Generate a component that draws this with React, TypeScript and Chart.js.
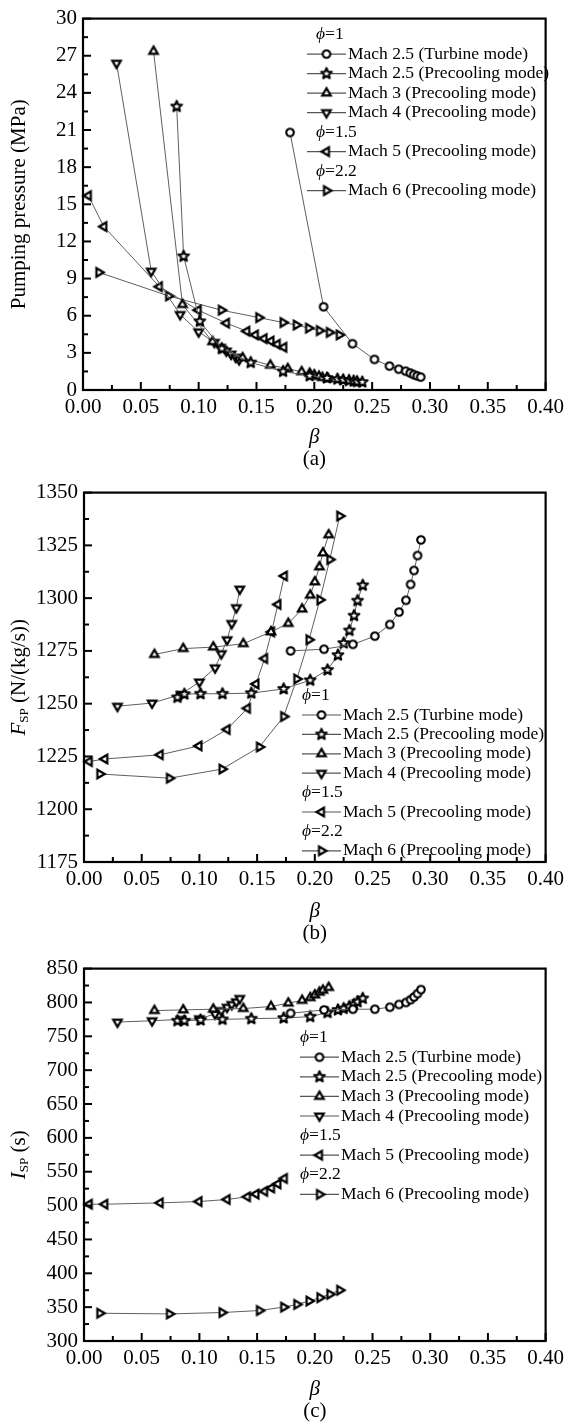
import React, { useEffect, useRef } from 'react';
import { Chart, registerables } from 'chart.js';

Chart.register(...registerables);

const FONT = '"Liberation Serif", "Times New Roman", Times, serif';
const TICK_SIZE = 21;
const TITLE_SIZE = 21;
const LEGEND_SIZE = 17.5;

// β along each operating line
const betaM25Turbine = [0.179, 0.208, 0.233, 0.252, 0.265, 0.273, 0.279, 0.283, 0.286, 0.289, 0.292];
const betaM25Precool = [0.081, 0.087, 0.101, 0.12, 0.145, 0.173, 0.196, 0.211, 0.22, 0.225, 0.23, 0.234, 0.237, 0.2415];
const betaM3 = [0.061, 0.086, 0.112, 0.138, 0.162, 0.177, 0.189, 0.196, 0.2, 0.204, 0.207, 0.212];
const betaM4 = [0.029, 0.059, 0.084, 0.1, 0.1136, 0.119, 0.124, 0.128, 0.132, 0.135];
const betaM5 = [0.0046, 0.018, 0.066, 0.0996, 0.124, 0.1416, 0.149, 0.1565, 0.1625, 0.168, 0.1736];
const betaM6 = [0.0137, 0.074, 0.1196, 0.152, 0.173, 0.1844, 0.195, 0.2044, 0.213, 0.2216];

// (a) pumping pressure, MPa
const pumpM25Turbine = [20.8, 6.72, 3.74, 2.47, 1.93, 1.68, 1.52, 1.37, 1.24, 1.14, 1.04];
const pumpM25Precool = [22.9, 10.8, 5.55, 3.35, 2.22, 1.5, 1.15, 0.97, 0.88, 0.82, 0.77, 0.72, 0.68, 0.64];
const pumpM3 = [27.35, 6.9, 3.9, 2.6, 2.0, 1.72, 1.47, 1.34, 1.22, 1.1, 1.0, 0.9];
const pumpM4 = [26.4, 9.6, 6.1, 4.7, 3.85, 3.45, 3.15, 2.9, 2.65, 2.45];
const pumpM5 = [15.7, 13.2, 8.35, 6.45, 5.4, 4.75, 4.45, 4.15, 3.95, 3.7, 3.45];
const pumpM6 = [9.5, 7.6, 6.45, 5.85, 5.45, 5.25, 5.0, 4.8, 4.65, 4.45];

// (b) specific thrust, N/(kg/s)
const fspM25Turbine = [1275.0, 1275.8, 1278.1, 1282.0, 1287.5, 1293.4, 1299.0, 1306.5, 1313.1, 1320.2, 1327.6];
const fspM25Precool = [1253.0, 1254.5, 1254.7, 1254.7, 1255.0, 1257.0, 1261.1, 1266.0, 1273.0, 1278.7, 1284.7, 1291.7, 1298.8, 1306.1];
const fspM3 = [1273.3, 1276.1, 1276.8, 1278.4, 1284.0, 1288.0, 1294.8, 1301.4, 1307.7, 1314.8, 1321.4, 1330.0];
const fspM4 = [1248.8, 1250.3, 1254.4, 1260.3, 1267.0, 1273.7, 1280.3, 1288.0, 1295.5, 1304.3];
const fspM5 = [1222.6, 1223.8, 1225.8, 1230.0, 1237.8, 1247.8, 1259.3, 1271.4, 1284.0, 1297.0, 1310.5];
const fspM6 = [1216.7, 1214.7, 1219.0, 1229.5, 1243.9, 1261.7, 1280.3, 1299.2, 1318.3, 1338.9];

// (c) specific impulse, s
const ispM25Turbine = [784, 789, 790, 790, 793, 797, 800, 804, 808, 813, 819];
const ispM25Precool = [773, 773, 774, 775, 776, 777, 779, 785, 789, 791, 794, 797, 801, 806];
const ispM3 = [788, 789, 790, 791, 794, 799, 803, 807, 811, 815, 818, 822];
const ispM4 = [771, 773, 775, 776, 783, 788, 793, 797, 801, 806];
const ispM5 = [502, 502, 504, 506, 509, 513, 517, 521, 526, 532, 540];
const ispM6 = [341, 340, 342, 345, 350, 354, 359, 364, 369, 375];

const seriesNames = [
  'Mach 2.5 (Turbine mode)',
  'Mach 2.5 (Precooling mode)',
  'Mach 3 (Precooling mode)',
  'Mach 4 (Precooling mode)',
  'Mach 5 (Precooling mode)',
  'Mach 6 (Precooling mode)',
];
const betas = [betaM25Turbine, betaM25Precool, betaM3, betaM4, betaM5, betaM6];

// legend rows: equivalence-ratio headers interleaved with series
const legendRows: Array<{ phi?: string; series?: number }> = [
  { phi: '1' },
  { series: 0 },
  { series: 1 },
  { series: 2 },
  { series: 3 },
  { phi: '1.5' },
  { series: 4 },
  { phi: '2.2' },
  { series: 5 },
];

type MarkerKind = 'circle' | 'star' | 'up' | 'down' | 'left' | 'right';
const markerKinds: MarkerKind[] = ['circle', 'star', 'up', 'down', 'left', 'right'];

function makeMarker(kind: MarkerKind): HTMLCanvasElement {
  const s = 18;
  const c = document.createElement('canvas');
  c.width = s;
  c.height = s;
  const g = c.getContext('2d')!;
  g.translate(s / 2, s / 2);
  g.strokeStyle = '#000';
  g.fillStyle = '#fff';
  g.lineJoin = 'miter';
  g.beginPath();
  if (kind === 'circle') {
    g.lineWidth = 2.1;
    g.arc(0, 0, 3.8, 0, Math.PI * 2);
  } else if (kind === 'star') {
    g.lineWidth = 2.1;
    g.lineJoin = 'round';
    const ro = 5.6;
    const ri = 2.5;
    for (let i = 0; i < 10; i++) {
      const r = i % 2 === 0 ? ro : ri;
      const a = -Math.PI / 2 + (i * Math.PI) / 5;
      const px = r * Math.cos(a);
      const py = r * Math.sin(a);
      if (i === 0) g.moveTo(px, py);
      else g.lineTo(px, py);
    }
    g.closePath();
  } else {
    g.lineWidth = 2.2;
    const rot = { up: 0, right: 90, down: 180, left: 270 }[kind] * (Math.PI / 180);
    const r = 4.9;
    [-90, 30, 150].forEach((deg, i) => {
      const a = (deg * Math.PI) / 180 + rot;
      const px = r * Math.cos(a);
      const py = r * Math.sin(a);
      if (i === 0) g.moveTo(px, py);
      else g.lineTo(px, py);
    });
    g.closePath();
  }
  g.fill();
  g.stroke();
  return c;
}

type Part = { t: string; it?: boolean; sub?: boolean };

function partFont(p: Part, size: number) {
  const sz = p.sub ? Math.round(size * 0.62) : size;
  return `${p.it ? 'italic ' : ''}${sz}px ${FONT}`;
}

function partsWidth(ctx: CanvasRenderingContext2D, parts: Part[], size: number) {
  let w = 0;
  for (const p of parts) {
    ctx.font = partFont(p, size);
    w += ctx.measureText(p.t).width;
  }
  return w;
}

function drawParts(ctx: CanvasRenderingContext2D, parts: Part[], x: number, y: number, size: number) {
  let cx = x;
  ctx.textBaseline = 'middle';
  ctx.textAlign = 'left';
  for (const p of parts) {
    ctx.font = partFont(p, size);
    ctx.fillText(p.t, cx, p.sub ? y + size * 0.28 : y);
    cx += ctx.measureText(p.t).width;
  }
}

interface PanelCfg {
  key: string;
  top: number;
  height: number;
  padTop: number;
  axisW: number;
  xAxisH: number;
  yMin: number;
  yMax: number;
  yStep: number;
  values: number[][];
  yTitle: Part[];
  label: string;
  betaDy: number;
  labelDy: number;
  legend: { top: number; headerX: number; lineX0: number; lineX1: number; textX: number; rowH: number };
}

const panels: PanelCfg[] = [
  {
    key: 'a',
    top: 0,
    height: 474,
    padTop: 16,
    axisW: 83,
    xAxisH: 84,
    yMin: 0,
    yMax: 30,
    yStep: 3,
    values: [pumpM25Turbine, pumpM25Precool, pumpM3, pumpM4, pumpM5, pumpM6],
    yTitle: [{ t: 'Pumping pressure (MPa)' }],
    label: '(a)',
    betaDy: 47,
    labelDy: 69,
    legend: { top: 16, headerX: 233, lineX0: 224, lineX1: 263, textX: 265, rowH: 19.5 },
  },
  {
    key: 'b',
    top: 474,
    height: 476,
    padTop: 15,
    axisW: 84,
    xAxisH: 88,
    yMin: 1175,
    yMax: 1350,
    yStep: 25,
    values: [fspM25Turbine, fspM25Precool, fspM3, fspM4, fspM5, fspM6],
    yTitle: [{ t: 'F', it: true }, { t: 'SP', sub: true }, { t: ' (N/(kg/s))' }],
    label: '(b)',
    betaDy: 49,
    labelDy: 71,
    legend: { top: 203, headerX: 218, lineX0: 218, lineX1: 257, textX: 259, rowH: 19.4 },
  },
  {
    key: 'c',
    top: 950,
    height: 474,
    padTop: 18,
    axisW: 84,
    xAxisH: 83,
    yMin: 300,
    yMax: 850,
    yStep: 50,
    values: [ispM25Turbine, ispM25Precool, ispM3, ispM4, ispM5, ispM6],
    yTitle: [{ t: 'I', it: true }, { t: 'SP', sub: true }, { t: ' (s)' }],
    label: '(c)',
    betaDy: 48,
    labelDy: 70,
    legend: { top: 69, headerX: 216, lineX0: 216, lineX1: 255, textX: 257, rowH: 19.6 },
  },
];

function decorPlugin(cfg: PanelCfg, markers: HTMLCanvasElement[]) {
  return {
    id: 'panelDecor',
    afterDraw(chart: any) {
      const { ctx, chartArea: a, scales } = chart;
      const xs = scales.x;
      const ys = scales.y;
      ctx.save();
      ctx.strokeStyle = '#000';
      ctx.fillStyle = '#000';

      // inward major and minor tick marks on the bottom and left axes
      ctx.lineWidth = 2;
      const xv = xs.ticks.map((t: any) => t.value);
      xv.forEach((v: number, i: number) => {
        const p = xs.getPixelForValue(v);
        ctx.beginPath();
        ctx.moveTo(p, a.bottom);
        ctx.lineTo(p, a.bottom - 8);
        ctx.stroke();
        if (i < xv.length - 1) {
          const m = xs.getPixelForValue((v + xv[i + 1]) / 2);
          ctx.beginPath();
          ctx.moveTo(m, a.bottom);
          ctx.lineTo(m, a.bottom - 5);
          ctx.stroke();
        }
      });
      const yv = ys.ticks.map((t: any) => t.value);
      yv.forEach((v: number, i: number) => {
        const p = ys.getPixelForValue(v);
        ctx.beginPath();
        ctx.moveTo(a.left, p);
        ctx.lineTo(a.left + 8, p);
        ctx.stroke();
        if (i < yv.length - 1) {
          const m = ys.getPixelForValue((v + yv[i + 1]) / 2);
          ctx.beginPath();
          ctx.moveTo(a.left, m);
          ctx.lineTo(a.left + 5, m);
          ctx.stroke();
        }
      });

      // plot frame
      ctx.lineWidth = 2.2;
      ctx.strokeRect(a.left, a.top, a.right - a.left, a.bottom - a.top);

      // legend
      const L = cfg.legend;
      let y = a.top + L.top;
      legendRows.forEach((row) => {
        if (row.phi !== undefined) {
          drawParts(ctx, [{ t: 'ϕ', it: true }, { t: '=' + row.phi }], a.left + L.headerX, y, LEGEND_SIZE);
        } else {
          const i = row.series as number;
          ctx.strokeStyle = '#555';
          ctx.lineWidth = 1.2;
          ctx.beginPath();
          ctx.moveTo(a.left + L.lineX0, y);
          ctx.lineTo(a.left + L.lineX1, y);
          ctx.stroke();
          const mk = markers[i];
          const mx = a.left + (L.lineX0 + L.lineX1) / 2;
          ctx.drawImage(mk, mx - mk.width / 2, y - mk.height / 2);
          drawParts(ctx, [{ t: seriesNames[i] }], a.left + L.textX, y, LEGEND_SIZE);
        }
        y += L.rowH;
      });

      // axis titles and panel label
      const cx = (a.left + a.right) / 2;
      ctx.textAlign = 'center';
      ctx.textBaseline = 'middle';
      ctx.font = `italic ${TITLE_SIZE}px ${FONT}`;
      ctx.fillText('β', cx, a.bottom + cfg.betaDy);
      ctx.font = `${TITLE_SIZE}px ${FONT}`;
      ctx.fillText(cfg.label, cx, a.bottom + cfg.labelDy);

      ctx.save();
      ctx.translate(19, (a.top + a.bottom) / 2);
      ctx.rotate(-Math.PI / 2);
      const w = partsWidth(ctx, cfg.yTitle, TITLE_SIZE);
      drawParts(ctx, cfg.yTitle, -w / 2, 0, TITLE_SIZE);
      ctx.restore();

      ctx.restore();
    },
  };
}

function Panel({ cfg }: { cfg: PanelCfg }) {
  const ref = useRef<HTMLCanvasElement>(null);
  useEffect(() => {
    const markers = markerKinds.map(makeMarker);
    const datasets = cfg.values.map((vals, i) => ({
      label: seriesNames[i],
      data: betas[i].map((b, j) => ({ x: b, y: vals[j] })),
      showLine: true,
      borderColor: '#5f5f5f',
      borderWidth: 1,
      pointStyle: markers[i] as any,
      pointRadius: 6,
      pointHoverRadius: 6,
      clip: false as any,
    }));
    const tickFont = { family: FONT, size: TICK_SIZE };
    const chart = new Chart(ref.current as HTMLCanvasElement, {
      type: 'scatter',
      data: { datasets },
      options: {
        animation: false,
        responsive: false,
        maintainAspectRatio: false,
        layout: { padding: { top: cfg.padTop, right: 19, left: 0, bottom: 0 } },
        plugins: { legend: { display: false }, tooltip: { enabled: false } },
        scales: {
          x: {
            type: 'linear',
            min: 0,
            max: 0.4,
            grid: { display: false, drawTicks: false },
            border: { display: false },
            ticks: {
              stepSize: 0.05,
              color: '#000',
              font: tickFont,
              padding: 5,
              maxRotation: 0,
              autoSkip: false,
              callback: (v: any) => Number(v).toFixed(2),
            },
            afterFit: (s: any) => {
              s.height = cfg.xAxisH;
            },
          },
          y: {
            type: 'linear',
            min: cfg.yMin,
            max: cfg.yMax,
            grid: { display: false, drawTicks: false },
            border: { display: false },
            ticks: {
              stepSize: cfg.yStep,
              color: '#000',
              font: tickFont,
              padding: 6,
              autoSkip: false,
              callback: (v: any) => String(Math.round(Number(v))),
            },
            afterFit: (s: any) => {
              s.width = cfg.axisW;
            },
          },
        },
      },
      plugins: [decorPlugin(cfg, markers)],
    } as any);
    return () => chart.destroy();
  }, [cfg]);
  return (
    <div style={{ position: 'absolute', left: 0, top: cfg.top, width: 569, height: cfg.height }}>
      <canvas ref={ref} width={569} height={cfg.height} style={{ display: 'block', width: 569, height: cfg.height }} />
    </div>
  );
}

export default function App() {
  return (
    <div style={{ position: 'absolute', left: 0, top: 0, width: 569, height: 1424, background: '#fff' }}>
      {panels.map((p) => (
        <Panel key={p.key} cfg={p} />
      ))}
    </div>
  );
}
